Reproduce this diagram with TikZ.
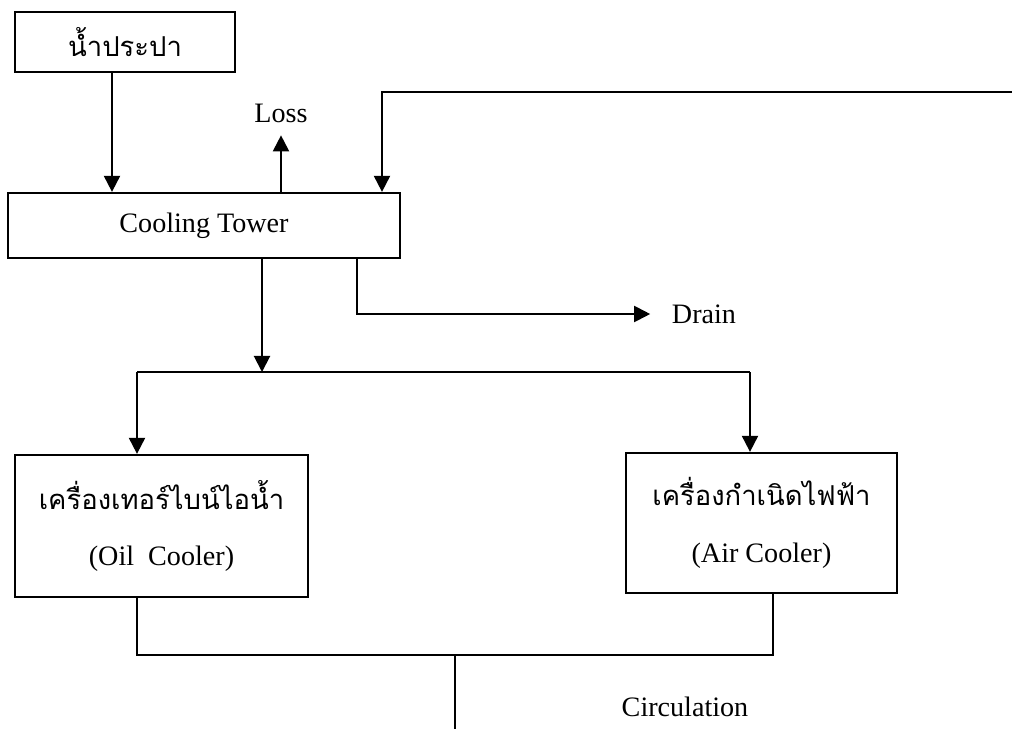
\documentclass[tikz,border=0pt]{standalone}
\usepackage{fontspec}
\setmainfont{Liberation Serif}
\newfontfamily\thaifont[Script=Thai]{Loma}
\usetikzlibrary{arrows.meta}

\begin{document}
\begin{tikzpicture}[
                    % one unit = one pixel of the sheet
                    x=0.025cm, y=-0.025cm,
                    every path/.style={color=black, line width=1.4pt},
                    every node/.style={color=black, font=\fontsize{20}{24}\selectfont},
                    unit/.style={draw, rectangle, line width=1.6pt, inner sep=0pt, align=center},
                    tag/.style={inner sep=0pt},
                    flow/.style={-{Triangle[length=0.4cm, width=0.4cm]}}
                  ]
                  % --- Define the text sizes ---
                  \def\px{0.025cm}
                  \def\thbig{\thaifont\fontsize{19.5}{24}\selectfont}

                  \useasboundingbox (0,0) rectangle (1012,729);

                  % --- Boxes ---
  \node[unit, minimum width=220*\px, minimum height=60*\px] (tap) at (125,42) {\thbig\raisebox{-4pt}{น้ำประปา}};
  \node[unit, minimum width=392*\px, minimum height=65*\px] (tower) at (204,225.5) {Cooling Tower};
  \node[unit, minimum width=293*\px, minimum height=142*\px] (turbine) at (161.5,526)
      {{\thbig เครื่องเทอร์ไบน์ไอน้ำ}\\[16pt] (Oil\ \ Cooler)};
  \node[unit, minimum width=271*\px, minimum height=140*\px] (gen) at (761.5,523)
      {{\thbig เครื่องกำเนิดไฟฟ้า}\\[16pt] (Air Cooler)};

                  % --- Labels ---
  \node[tag] (loss) at (281,113) {Loss};
  \node[tag, anchor=west] (drain) at (671,314) {Drain};
  \node[tag] (circ) at (685,707) {Circulation};

                  % --- Points where the pipes turn ---
  \coordinate (feed) at (112,0);
  \coordinate (ret) at (1012,92);
  \coordinate (retin) at (382,0);
  \coordinate (drainout) at (357,0);
  \coordinate (split) at (262,372);
  \coordinate (brL) at (137,372);
  \coordinate (brR) at (750,372);
  \coordinate (jnL) at (137,655);
  \coordinate (jnR) at (773,655);
  \coordinate (sink) at (455,729);

                  % --- Pipes ---
  \draw[flow] (tap.south -| feed) -- (tower.north -| feed);
  \draw[flow, shorten >=0.3cm] (tower.north -| loss) -- (loss.south);
  \draw[flow] (ret) -| (tower.north -| retin);
  \draw[flow, shorten >=0.52cm] (tower.south -| drainout) |- (drain.west);
  \draw[flow] (tower.south -| split) -- (split);
  \draw (brL) -- (brR);
  \draw[flow] (brL) -- (turbine.north -| brL);
  \draw[flow] (brR) -- (gen.north -| brR);
  \draw (turbine.south -| jnL) -- (jnL) -- (jnR) -- (gen.south -| jnR);
  \draw (jnL -| sink) -- (sink);

                \end{tikzpicture}
\end{document}
